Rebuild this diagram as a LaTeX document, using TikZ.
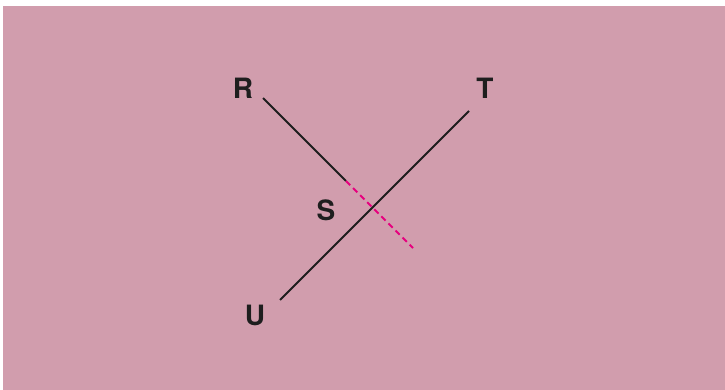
\documentclass[tikz,border=0pt]{standalone}
\usepackage{fontspec}
\setmainfont{TeX Gyre Heros}
\definecolor{bgpink}{RGB}{209,157,173}
\definecolor{dashmag}{RGB}{230,0,126}
\definecolor{ink}{RGB}{30,30,30}
\tikzset{
  ptlabel/.style={font=\bfseries\fontsize{28}{28}\selectfont, text=ink, inner sep=0pt},
  solidline/.style={draw=ink, line width=1.9pt},
  dashline/.style={draw=dashmag, line width=2pt, dash pattern=on 6pt off 4pt}
}
\begin{document}
\begin{tikzpicture}[x=1pt,y=-1pt]
\useasboundingbox (0,0) rectangle (725,390);
\fill[white] (0,0) rectangle (725,390);
\fill[bgpink] (3,6) rectangle (725,390);
\coordinate (r1) at (263,98);
\coordinate (rm) at (346,181);
\coordinate (r2) at (413,248);
\coordinate (t1) at (469,111);
\coordinate (u1) at (280,300);
\draw[solidline] (r1) -- (rm);
\draw[dashline] (rm) -- (r2);
\draw[solidline] (t1) -- (u1);
\node[ptlabel] (R) at (243,88) {R};
\node[ptlabel] (T) at (485,88) {T};
\node[ptlabel] (S) at (326,210) {S};
\node[ptlabel] (U) at (255,315) {U};
\end{tikzpicture}
\end{document}
